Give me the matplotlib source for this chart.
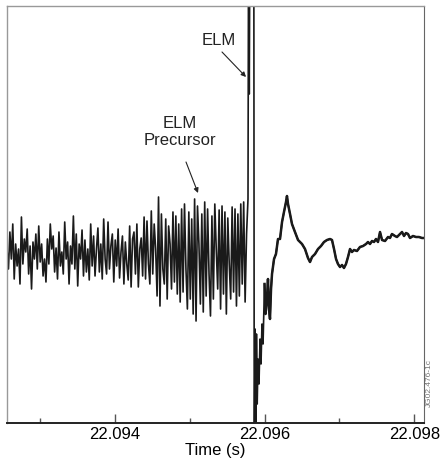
import numpy as np
import matplotlib
matplotlib.use("Agg")
import matplotlib.pyplot as plt

plt.rcParams['font.family'] = ['Liberation Sans', 'DejaVu Sans']

#=============== data (time in ms after 22.090 s, signal in a.u.) ===============
T0 = 22.090
pre_start_ms = 2.556
pre_end_ms = 5.778
pre_v = [0.05, -0.15, 0.22, -0.05, 0.30, -0.25, 0.10, -0.12, 0.05, -0.30,
         0.37, -0.10, 0.15, 0.02, 0.25, -0.20, 0.08, -0.35, 0.12, -0.05,
         0.20, -0.15, 0.28, -0.08, 0.10, -0.22, -0.05, -0.28, 0.15, -0.10,
         0.30, 0.05, 0.18, -0.18, 0.06, -0.25, 0.22, -0.12, 0.02, -0.20,
         0.32, -0.05, 0.12, -0.30, 0.08, -0.10, 0.38, -0.15, 0.20, -0.32,
         0.10, -0.05, 0.24, -0.22, 0.14, -0.18, 0.05, -0.26, 0.30, -0.12,
         0.18, -0.22, 0.05, 0.26, -0.18, 0.10, -0.25, 0.35, -0.05, -0.20,
         0.32, -0.15, 0.08, 0.20, -0.28, 0.14, -0.12, 0.25, -0.24, 0.02,
         0.18, -0.30, 0.12, -0.10, -0.26, 0.28, -0.33, 0.15, 0.22, -0.20,
         0.30, -0.33, 0.05, 0.16, -0.22, 0.37,
         -0.25, 0.33, -0.10, -0.30, 0.43, -0.20, 0.30, 0.05, -0.42, 0.57,
         -0.52, 0.40, -0.15, -0.30, 0.35, -0.45, 0.28, 0.10, -0.35, 0.42,
         -0.28, 0.38, -0.40, 0.30,
         -0.48, 0.45, -0.38, 0.50, -0.15, -0.55, 0.42, -0.45, 0.35, -0.60,
         0.55, -0.67, 0.48, 0.10, -0.50, 0.40, -0.58, 0.52, -0.42, 0.45,
         -0.20, -0.62, 0.38, -0.45, 0.50, 0.05, -0.35, 0.44, -0.55, 0.48,
         -0.40, 0.42, -0.60, 0.36, -0.10, -0.45, 0.47, -0.38, 0.45, -0.52,
         0.40, -0.42, 0.50, -0.30, 0.52, -0.48, 0.20, 0.55]

post_t = [5.785, 5.795, 5.802, 5.856, 5.862, 5.872, 5.880, 5.891, 5.901, 5.912,
          5.925, 5.939, 5.952, 5.965, 5.979, 5.999, 6.012, 6.032, 6.045, 6.059,
          6.072, 6.086, 6.099, 6.126, 6.152, 6.179, 6.206, 6.233, 6.259, 6.286,
          6.299, 6.313, 6.340, 6.366, 6.406, 6.447, 6.500, 6.540, 6.580, 6.607,
          6.634, 6.674, 6.714, 6.754, 6.794, 6.834, 6.875, 6.901, 6.928, 6.955,
          6.981, 7.008, 7.035, 7.061, 7.088, 7.115, 7.142, 7.168, 7.195, 7.235,
          7.275, 7.316, 7.356, 7.382, 7.409, 7.436, 7.463, 7.489, 7.516, 7.543,
          7.570, 7.610, 7.650, 7.676, 7.703, 7.743, 7.770, 7.810, 7.837, 7.864,
          7.890, 7.917, 7.944, 7.984, 8.024, 8.064, 8.104, 8.131]
post_v = [3.0, 1.6, 3.0, 3.0, -2.5, -0.75, -2.5, -0.8, -1.5, -1.05,
          -1.3, -0.85, -1.1, -0.7, -0.9, -0.3, -0.6, -0.45, -0.25, -0.55,
          -0.65, -0.35, -0.2, -0.05, 0.0, 0.15, 0.15, 0.32, 0.42, 0.52,
          0.58, 0.50, 0.40, 0.30, 0.22, 0.14, 0.10, 0.05, -0.04, -0.08,
          -0.03, 0.0, 0.05, 0.08, 0.12, 0.14, 0.15, 0.14, 0.05, -0.05,
          -0.10, -0.13, -0.11, -0.14, -0.10, -0.03, 0.05, 0.02, 0.04, 0.03,
          0.07, 0.08, 0.10, 0.12, 0.10, 0.13, 0.12, 0.15, 0.12, 0.22,
          0.14, 0.13, 0.17, 0.16, 0.20, 0.18, 0.17, 0.20, 0.22, 0.18,
          0.21, 0.20, 0.16, 0.18, 0.17, 0.17, 0.16, 0.16]

major_ticks = [22.094, 22.096, 22.098]
minor_ticks = [22.093, 22.095, 22.097]
#===============================================================================

pre_t = np.linspace(pre_start_ms, pre_end_ms, len(pre_v))
t_ms = np.concatenate([pre_t, post_t])
sig = np.concatenate([pre_v, post_v])
time = T0 + t_ms / 1000.

fig = plt.figure(figsize=(4.41, 4.64), dpi=100)
ax = fig.add_axes([7/441, 1 - 424/464, 417/441, 417/464])

ax.plot(time, sig, color='#1a1a1a', lw=1.2)
# recovery looks a bit heavier
ax.plot(T0 + np.array(post_t[15:]) / 1000., post_v[15:], color='#1a1a1a', lw=1.8)

ax.set_xlim(T0 + 2.556/1000., T0 + 8.131/1000.)
ax.set_ylim(-1.69, 2.48)

ax.set_xticks(major_ticks)
ax.set_xticklabels(['%.3f' % v for v in major_ticks])
ax.set_xticks(minor_ticks, minor=True)
ax.tick_params(axis='x', which='major', direction='in', length=6.5, width=1,
               color='#555555', labelsize=12, pad=2)
ax.tick_params(axis='x', which='minor', direction='in', length=3.5, width=1,
               color='#555555')
ax.set_yticks([])
ax.set_xlabel('Time (s)', fontsize=12, labelpad=1)

for s in ['left', 'top']:
    ax.spines[s].set_color('#999999')
    ax.spines[s].set_linewidth(1)
ax.spines['right'].set_color('#666666')
ax.spines['bottom'].set_color('#222222')
ax.spines['bottom'].set_linewidth(1.4)

def px(x, y):
    # helper: reference pixel -> data
    return (T0 + (4 + (x - 115) / 74.8) / 1000., (255 - y) / 100.)

arrow = dict(arrowstyle='-|>', color='#222222', lw=0.8, mutation_scale=7,
             shrinkA=0, shrinkB=0)
ax.text(*px(219, 40), 'ELM', ha='center', va='center', fontsize=12,
        color='#222222')
ax.annotate('', xy=px(246, 78), xytext=px(222, 53), arrowprops=arrow)
ax.text(*px(180, 132), 'ELM\nPrecursor', ha='center', va='center',
        fontsize=12, color='#222222')
ax.annotate('', xy=px(198, 194), xytext=px(186, 163), arrowprops=arrow)

fig.text(429/441, 1 - 383/464, 'JG02.476-1c', rotation=90, fontsize=6,
         color='#777777', ha='center', va='center')

fig.savefig('out.png', dpi=100)
